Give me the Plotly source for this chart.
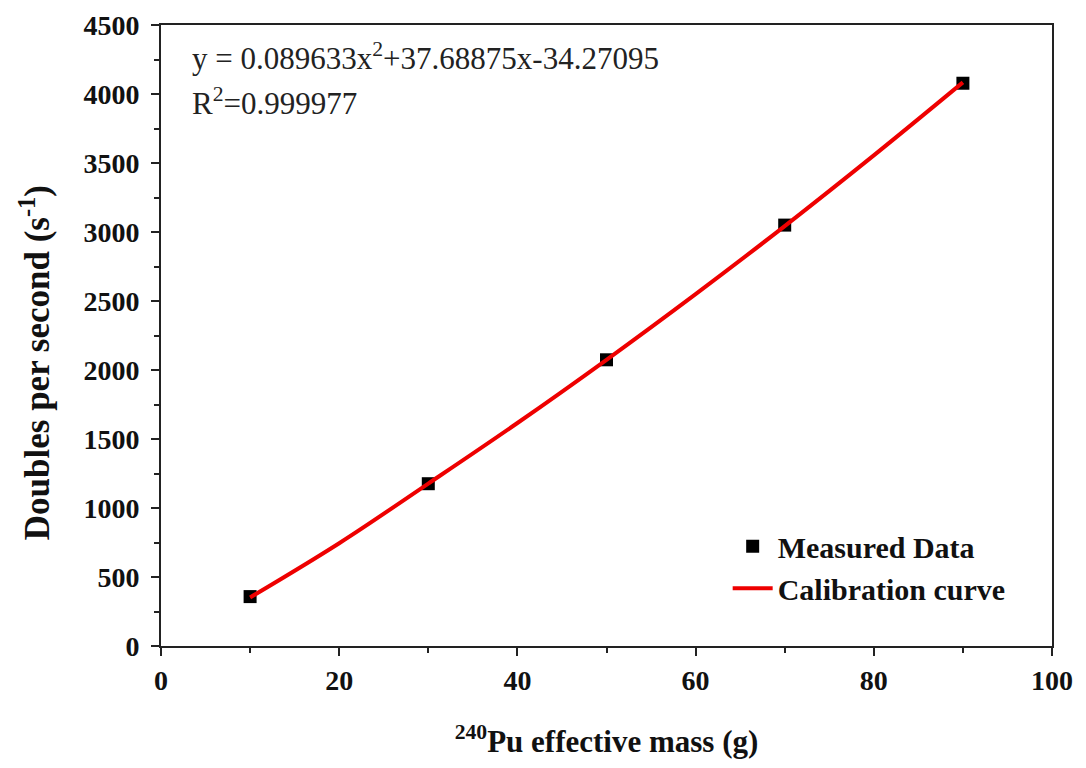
import plotly.graph_objects as go

mass = [10, 30, 50, 70, 90]
doubles = [358, 1176, 2074, 3050, 4078]

curve_mass = [10, 20, 30, 40, 50, 60, 70, 80, 90]
curve_doubles = [352, 745, 1177, 1616, 2074, 2550, 3043, 3555, 4084]

x_ticks = [0, 20, 40, 60, 80, 100]
y_ticks = [0, 500, 1000, 1500, 2000, 2500, 3000, 3500, 4000, 4500]

FONT = "Liberation Serif"

fig = go.Figure()
fig.add_trace(go.Scatter(
    x=mass, y=doubles, mode="markers", name="Measured Data",
    marker=dict(symbol="square", size=13, color="black"),
))
fig.add_trace(go.Scatter(
    x=curve_mass, y=curve_doubles, mode="lines", name="Calibration curve",
    line=dict(color="#ee0000", width=4, shape="spline"),
))

axis_common = dict(
    showgrid=False, zeroline=False, showline=True, linecolor="#222",
    linewidth=2, mirror=True, ticks="outside", ticklen=8, tickwidth=2,
    tickcolor="#222", automargin=False,
    tickfont=dict(family=FONT, size=28, color="#111", weight="bold"),
)

fig.update_xaxes(
    range=[0, 100], tickvals=x_ticks,
    minor=dict(dtick=10, ticks="outside", ticklen=5, tickwidth=2, tickcolor="#222"),
    title=dict(text="<sup>240</sup>Pu effective mass (g)",
               font=dict(family=FONT, size=31, color="#111", weight="bold"),
               standoff=36),
    **axis_common,
)
fig.update_yaxes(
    range=[0, 4500], tickvals=y_ticks,
    minor=dict(dtick=250, ticks="outside", ticklen=5, tickwidth=2, tickcolor="#222"),
    ticklabelstandoff=6,
    **axis_common,
)

# y-axis title (placed as in the reference, slightly below the axis centre)
fig.add_annotation(
    xref="paper", yref="paper", x=-0.141, y=0.456, xanchor="center", yanchor="middle",
    text="Doubles per second (s<sup>-1</sup>)", textangle=-90, showarrow=False,
    font=dict(family=FONT, size=35, color="#111", weight="bold"),
)

fig.add_annotation(
    xref="paper", yref="paper", x=0.033, y=0.950, xanchor="left", yanchor="middle",
    text="y = 0.089633x<sup>2</sup>+37.68875x-34.27095", showarrow=False,
    font=dict(family=FONT, size=31, color="#222"),
)
fig.add_annotation(
    xref="paper", yref="paper", x=0.033, y=0.877, xanchor="left", yanchor="middle",
    text="R<sup>2</sup>=0.999977", showarrow=False,
    font=dict(family=FONT, size=31, color="#222"),
)

fig.update_layout(
    width=1086, height=768,
    margin=dict(l=161, r=34, t=25, b=122),
    paper_bgcolor="white", plot_bgcolor="white",
    showlegend=True,
    legend=dict(
        x=0.636, y=0.127, xanchor="left", yanchor="middle",
        bgcolor="rgba(0,0,0,0)",
        font=dict(family=FONT, size=30, color="#111", weight="bold"),
        itemwidth=40, tracegroupgap=0,
    ),
)

fig.write_html("out.html")
